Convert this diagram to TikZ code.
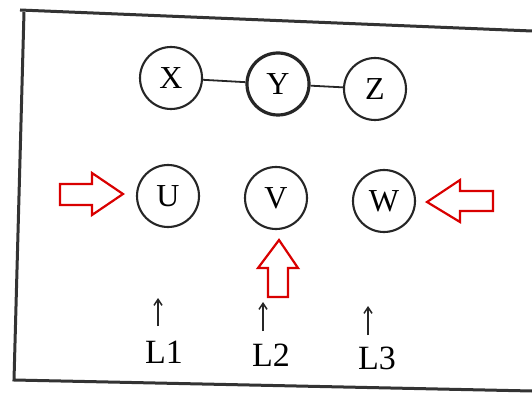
\documentclass[tikz,border=0pt]{standalone}
\usepackage{fontspec}
\setmainfont{Liberation Serif}
\usetikzlibrary{arrows.meta}
\tikzset{
  circ/.style={circle,draw=black!85,line width=2.1pt,minimum size=62pt,inner sep=0pt,font=\fontsize{32}{36}\selectfont},
  link/.style={draw=black!85,line width=1.8pt},
  frameline/.style={draw=black!80,line width=3pt},
  redarrow/.style={draw=red!85!black,line width=2.2pt,fill=white,line join=miter},
  lab/.style={font=\fontsize{34}{38}\selectfont,inner sep=0pt},
  tick/.style={draw=black!85,line width=1.5pt,-{Straight Barb[length=6pt,width=8pt]}}
}
\begin{document}
\begin{tikzpicture}[x=1pt,y=-1pt]
\fill[white] (0,0) rectangle (532,395);
\useasboundingbox (0,0) rectangle (532,395);
% frame
\coordinate (f1) at (20,10);
\coordinate (f2) at (532,31);
\coordinate (f3) at (24,12);
\coordinate (f4) at (14,380);
\coordinate (f5) at (532,391);
\draw[frameline] (f1) -- (f2);
\draw[frameline] (f3) -- (f4) -- (f5);
% top row
\node[circ] (X) at (171,78) {X};
\node[circ,line width=3.2pt] (Y) at (278,84) {Y};
\node[circ] (Z) at (375,89) {Z};
\draw[link] (X) -- (Y);
\draw[link] (Y) -- (Z);
% bottom row
\node[circ] (U) at (168,196) {U};
\node[circ] (V) at (276,198) {V};
\node[circ] (W) at (384,201) {W};
% red arrows
\draw[redarrow] (60,184) -- (92,184) -- (92,173) -- (123,194) -- (92,215) -- (92,205) -- (60,205) -- cycle;
\draw[redarrow] (493,191) -- (460,191) -- (460,180) -- (427,202) -- (460,222) -- (460,211) -- (493,211) -- cycle;
\draw[redarrow] (268,297) -- (268,268) -- (258,268) -- (279,240) -- (298,268) -- (288,268) -- (288,297) -- cycle;
% labels
\node[lab] (L1) at (164,352) {L1};
\node[lab] (L2) at (271,355) {L2};
\node[lab] (L3) at (377,358) {L3};
\coordinate (t1) at (158,298);
\coordinate (t2) at (263,302);
\coordinate (t3) at (368,306);
\draw[tick] (158,326) -- (t1);
\draw[tick] (263,331) -- (t2);
\draw[tick] (368,335) -- (t3);
\end{tikzpicture}
\end{document}
